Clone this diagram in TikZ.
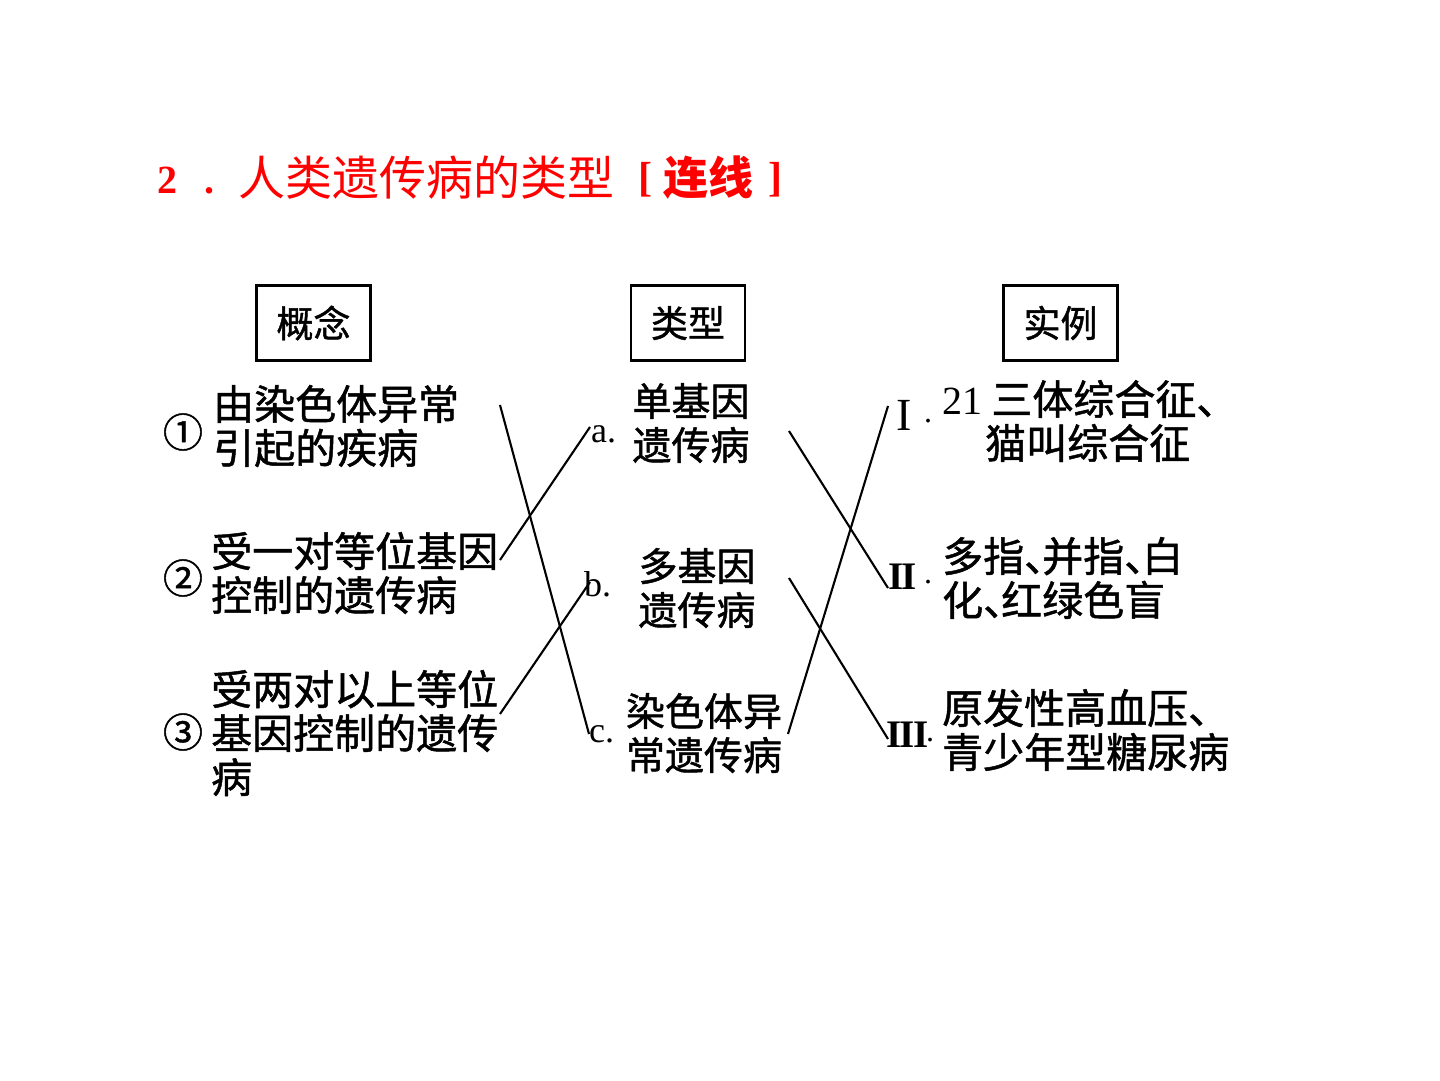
\documentclass[tikz,border=0pt]{standalone}
\usepackage{fontspec}
\setmainfont{Liberation Serif}
\newfontfamily\cjk[FakeBold=1.2]{Noto Sans CJK SC}
\newfontfamily\cjkt{Noto Sans CJK SC}
\newcommand\dun{\makebox[18pt][l]{、}}
\begin{document}
\begin{tikzpicture}[x=1pt,y=-1pt,
  hdr/.style={draw, line width=2.2pt, minimum width=114pt, minimum height=75pt, inner sep=0pt,
    font=\cjk\fontsize{37}{37}\selectfont},
  body/.style={anchor=west, align=left, inner sep=0pt, font=\cjk\fontsize{41}{44}\selectfont},
  mid/.style={align=center, inner sep=0pt, font=\cjk\fontsize{39}{44}\selectfont},
  circ/.style={inner sep=0pt, font=\cjk\fontsize{40}{40}\selectfont},
  lbl/.style={anchor=west, inner sep=0pt, font=\fontsize{36}{36}\selectfont},
  rom/.style={anchor=west, inner sep=0pt},
  link/.style={line width=2.1pt, black},
  ttl/.style={anchor=west, inner sep=0pt, text=red}
]
\useasboundingbox (0,0) rectangle (1440,1080);

% title
\node[ttl, font=\fontsize{40}{40}\selectfont\bfseries] (t1) at (157,180) {2};
\node[ttl, font=\fontsize{40}{40}\selectfont\bfseries] (t2) at (204,191) {.};
\node[ttl, font=\cjkt\fontsize{47}{47}\selectfont] (t3) at (238,178) {人类遗传病的类型};
\node[ttl, font=\fontsize{42}{42}\selectfont\bfseries] (t4) at (638,180) {[};
\node[ttl, font=\cjkt\fontsize{45}{45}\selectfont\bfseries] (t5) at (663,178) {连线};
\node[ttl, font=\fontsize{42}{42}\selectfont\bfseries] (t6) at (768,180) {]};

% headers
\node[hdr] (h1) at (313.5,323) {概念};
\node[hdr] (h2) at (688,323) {类型};
\node[hdr] (h3) at (1060.5,323) {实例};

% left column
\node[circ] (n1) at (183,432) {①};
\node[body] (c1) at (213,426) {由染色体异常\\引起的疾病};
\node[circ] (n2) at (183,578) {②};
\node[body] (c2) at (211,573) {受一对等位基因\\控制的遗传病};
\node[circ] (n3) at (183,732) {③};
\node[body] (c3) at (211,733) {受两对以上等位\\基因控制的遗传\\病};

% middle column
\node[lbl] (la) at (591,434) {a.};
\node[lbl] (lb) at (584,584) {b.};
\node[lbl] (lc) at (589,734) {c.};
\node[mid] (ta) at (691,423) {单基因\\遗传病};
\node[mid] (tb) at (697,588) {多基因\\遗传病};
\node[mid] (tc) at (704,733) {染色体异\\常遗传病};

% right column
\node[rom, font=\fontsize{46}{46}\selectfont] (r1) at (896,415) {I};
\node[rom, font=\fontsize{32}{32}\selectfont] (d1) at (924,421) {.};
\node[body] (e1) at (942,421) {{\rmfamily\fontsize{40}{44}\selectfont 21} 三体综合征\dun\\\hspace*{43pt}猫叫综合征};
\node[rom, font=\fontsize{39}{39}\selectfont\bfseries] (r2) at (888,577) {I\kern-1.5pt I};
\node[rom, font=\fontsize{32}{32}\selectfont] (d2) at (924,582) {.};
\node[body] (e2) at (942,578) {多指\dun 并指\dun 白\\化\dun 红绿色盲};
\node[rom, font=\fontsize{39}{39}\selectfont\bfseries] (r3) at (886,735) {I\kern-1.5pt I\kern-1.5pt I};
\node[rom, font=\fontsize{32}{32}\selectfont] (d3) at (926,740) {.};
\node[body] (e3) at (942,730) {原发性高血压\dun\\青少年型糖尿病};

% connector end points
\coordinate (p1) at (500,405);
\coordinate (p2) at (500,560);
\coordinate (p3) at (500,714);
\coordinate (qa) at (590,427);
\coordinate (qb) at (590,582);
\coordinate (qc) at (589,734);
\coordinate (sa) at (789,431);
\coordinate (sb) at (789,578);
\coordinate (sc) at (788,734);
\coordinate (u1) at (888,406);
\coordinate (u2) at (888,588);
\coordinate (u3) at (888,739);

\draw[link] (p1) -- (qc);
\draw[link] (p2) -- (qa);
\draw[link] (p3) -- (qb);
\draw[link] (sa) -- (u2);
\draw[link] (sb) -- (u3);
\draw[link] (sc) -- (u1);
\end{tikzpicture}
\end{document}
